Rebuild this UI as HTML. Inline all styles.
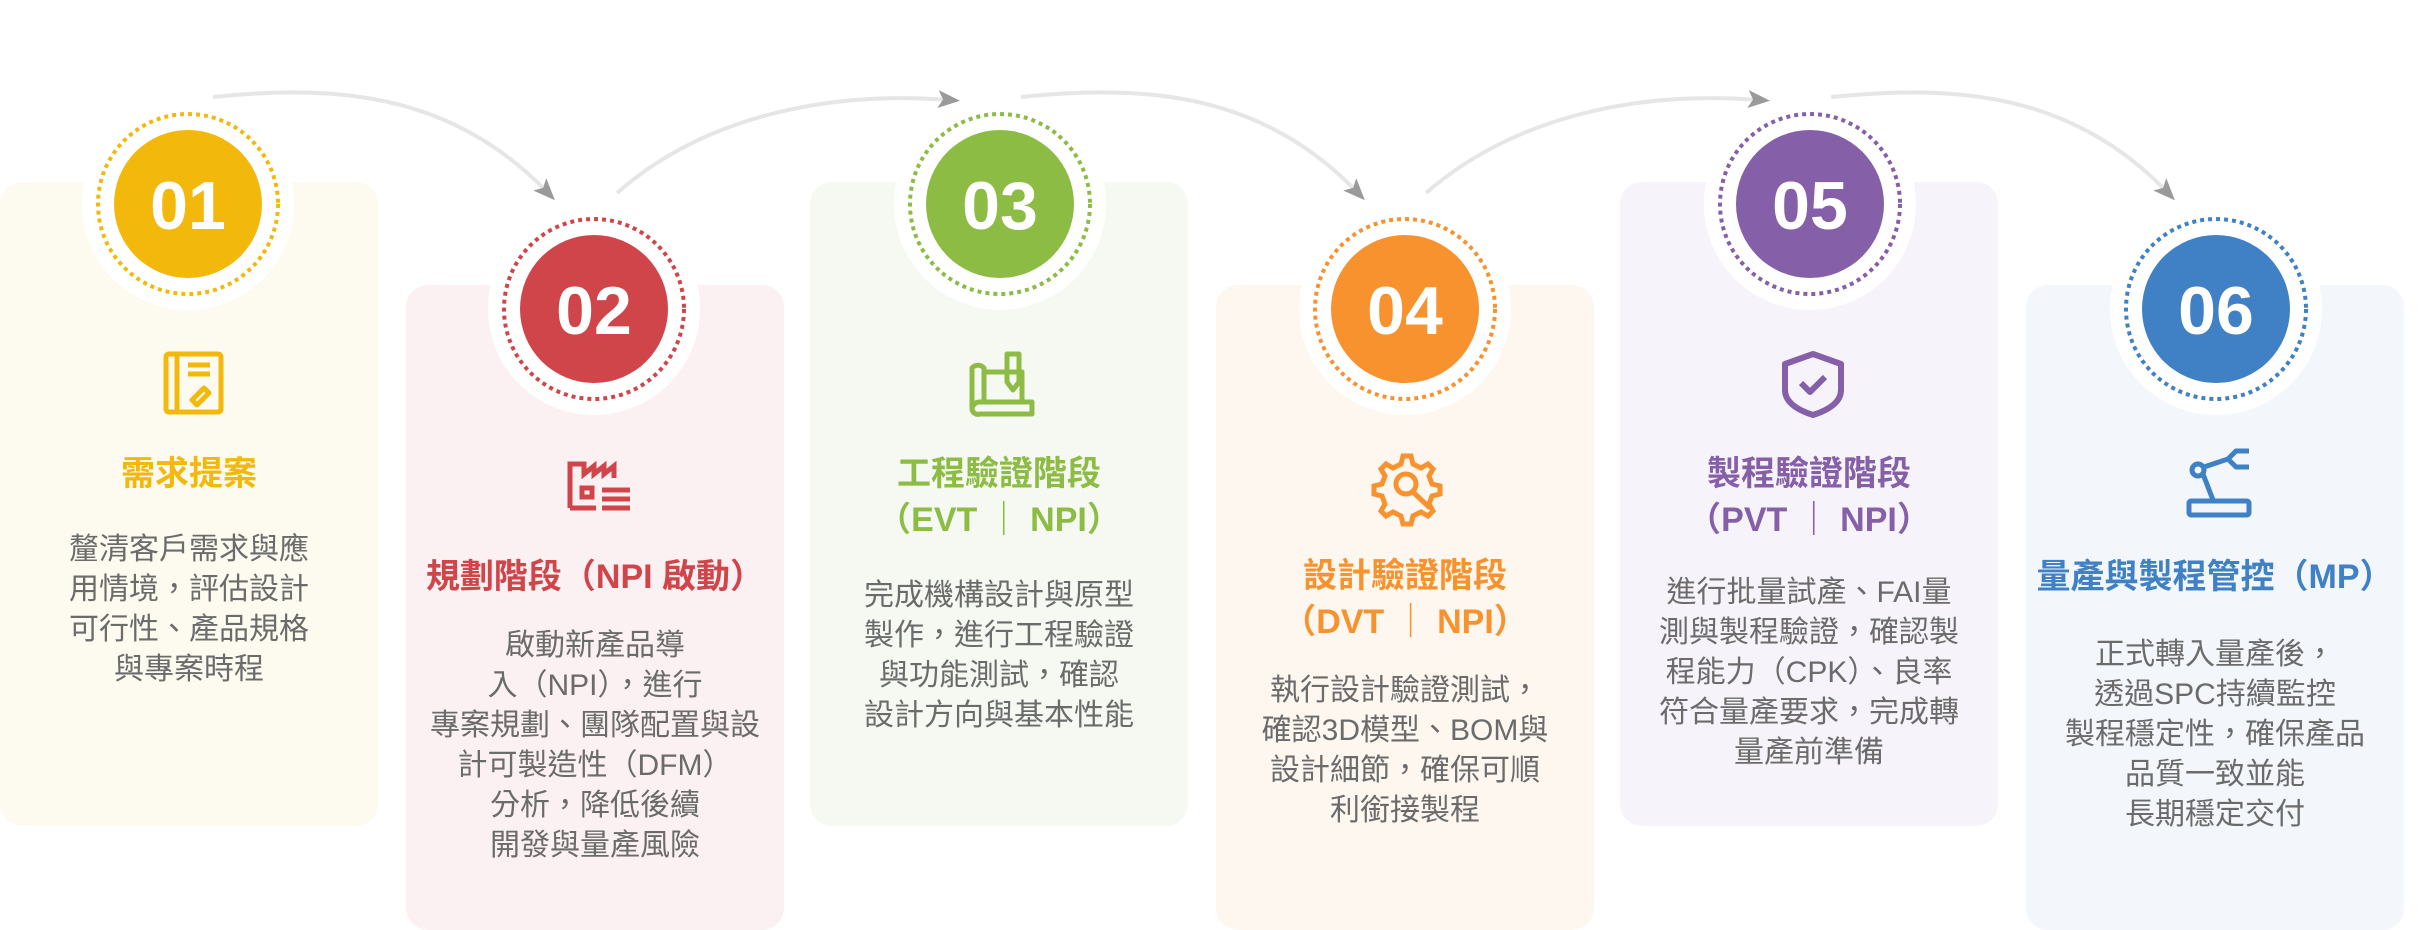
<!DOCTYPE html>
<html><head><meta charset="utf-8"><style>
body{margin:0;width:2420px;height:930px;background:#fff;position:relative;overflow:hidden;font-family:"Liberation Sans","Noto Sans CJK TC",sans-serif;}
.card{position:absolute;width:378px;border-radius:22px;}
.t{position:absolute;left:0;width:100%;text-align:center;}
.ti{font-size:34px;font-weight:bold;line-height:46px;}
.bd{font-size:30px;color:#6b6b6b;line-height:40px;}
svg{position:absolute;left:0;top:0;}
</style></head><body>
<div class="card" style="left:0;top:182px;height:644px;background:#fdfbf0"></div>
<div class="card" style="left:406px;top:285px;height:645px;background:#fbf1f2"></div>
<div class="card" style="left:810px;top:182px;height:644px;background:#f6f9f2"></div>
<div class="card" style="left:1216px;top:285px;height:645px;background:#fdf7f0"></div>
<div class="card" style="left:1620px;top:182px;height:644px;background:#f6f4fa"></div>
<div class="card" style="left:2026px;top:285px;height:645px;background:#f3f6fb"></div>
<svg width="2420" height="930" viewBox="0 0 2420 930">
<defs><marker id="a" markerWidth="22" markerHeight="22" refX="12" refY="11" orient="auto" markerUnits="userSpaceOnUse" viewBox="0 0 22 22"><path d="M0,2 L22,11 L0,20 L5,11z" fill="#9a9a9a"/></marker></defs>
<g fill="none" stroke="#e6e6e6" stroke-width="4">
<path d="M213,97 C330,85 450,90 548,193" marker-end="url(#a)" />
<path d="M617,193 C700,120 820,90 950,100" marker-end="url(#a)" />
<path d="M1021,97 C1140,85 1260,90 1358,193" marker-end="url(#a)" />
<path d="M1426,193 C1510,120 1630,90 1760,100" marker-end="url(#a)" />
<path d="M1831,97 C1950,85 2070,90 2168,193" marker-end="url(#a)" />
</g>
<g>
<g><circle cx="188" cy="204" r="106" fill="#fff"/><circle cx="188" cy="204" r="90" fill="none" stroke="#f2b90c" stroke-width="4" stroke-dasharray="4 4"/><circle cx="188" cy="204" r="74" fill="#f2b90c"/></g>
<g><circle cx="594" cy="309" r="106" fill="#fff"/><circle cx="594" cy="309" r="90" fill="none" stroke="#d0454a" stroke-width="4" stroke-dasharray="4 4"/><circle cx="594" cy="309" r="74" fill="#d0454a"/></g>
<g><circle cx="1000" cy="204" r="106" fill="#fff"/><circle cx="1000" cy="204" r="90" fill="none" stroke="#8dbc45" stroke-width="4" stroke-dasharray="4 4"/><circle cx="1000" cy="204" r="74" fill="#8dbc45"/></g>
<g><circle cx="1405" cy="309" r="106" fill="#fff"/><circle cx="1405" cy="309" r="90" fill="none" stroke="#f7922e" stroke-width="4" stroke-dasharray="4 4"/><circle cx="1405" cy="309" r="74" fill="#f7922e"/></g>
<g><circle cx="1810" cy="204" r="106" fill="#fff"/><circle cx="1810" cy="204" r="90" fill="none" stroke="#8560a8" stroke-width="4" stroke-dasharray="4 4"/><circle cx="1810" cy="204" r="74" fill="#8560a8"/></g>
<g><circle cx="2216" cy="309" r="106" fill="#fff"/><circle cx="2216" cy="309" r="90" fill="none" stroke="#3f81c4" stroke-width="4" stroke-dasharray="4 4"/><circle cx="2216" cy="309" r="74" fill="#3f81c4"/></g>
</g>
<g font-family="Liberation Sans,sans-serif" font-weight="bold" font-size="68" fill="#fff" text-anchor="middle">
<text x="188" y="229">01</text><text x="594" y="334">02</text><text x="1000" y="229">03</text><text x="1405" y="334">04</text><text x="1810" y="229">05</text><text x="2216" y="334">06</text>
</g>
<g fill="none" stroke="#f2b90c" stroke-width="5" stroke-linejoin="round"><rect x="166" y="354" width="55" height="58" rx="3"/><line x1="177" y1="354" x2="177" y2="412"/><line x1="188" y1="365" x2="210" y2="365"/><line x1="188" y1="374" x2="210" y2="374"/><path d="M192,400 l12,-12 l5,5 l-12,12 z"/></g>
<g fill="none" stroke="#d0454a" stroke-width="5"><path d="M570,508 v-44 h14 v10 l10,-8 v8 l10,-8 v8 l10,-8 v12"/><rect x="582" y="488" width="10" height="9"/><line x1="570" y1="508" x2="596" y2="508"/><line x1="602" y1="490" x2="630" y2="490"/><line x1="602" y1="499" x2="630" y2="499"/><line x1="602" y1="508" x2="630" y2="508"/></g>
<g fill="none" stroke="#8dbc45" stroke-width="5" stroke-linejoin="round"><path d="M972,408 v-40 a8,8 0 0 1 12,0 v36"/><path d="M972,408 a8,8 0 0 1 8,-6 h52 v12 h-52 a6,6 0 0 1 -8,-6"/><path d="M984,372 h38 v30"/><path d="M1007,354 h12 v28 l-6,8 l-6,-8 z"/></g>
<g fill="none" stroke="#f7922e" stroke-width="5"><path d="M1405,456 l6,0 l2,8 l8,4 l7,-4 l5,5 l-4,7 l3,8 l8,2 v8 l-8,2 l-3,8 l4,7 l-5,5 l-7,-4 l-8,4 l-2,8 h-8 l-2,-8 l-8,-4 l-7,4 l-5,-5 l4,-7 l-3,-8 l-8,-2 v-8 l8,-2 l3,-8 l-4,-7 l5,-5 l7,4 l8,-4 l2,-8 z"/><circle cx="1406" cy="484" r="10"/><line x1="1413" y1="492" x2="1430" y2="508"/></g>
<g fill="none" stroke="#8560a8" stroke-width="6" stroke-linejoin="round"><path d="M1813,354 l28,10 v26 q0,16 -28,25 q-28,-9 -28,-25 v-26 z"/><path d="M1801,383 l9,9 l15,-15"/></g>
<g fill="none" stroke="#3f81c4" stroke-width="5" stroke-linejoin="round"><rect x="2189" y="501" width="60" height="14" rx="2"/><circle cx="2198" cy="470" r="6"/><path d="M2203,474 l10,26"/><path d="M2204,467 l24,-8"/><path d="M2228,459 l8,-8 h13 M2228,459 l8,8 h13"/></g>
</svg>
<div class="t ti" style="left:0;width:378px;top:451px;color:#f2b90c">需求提案</div>
<div class="t bd" style="left:0;width:378px;top:530px">釐清客戶需求與應<br>用情境，評估設計<br>可行性、產品規格<br>與專案時程</div>
<div class="t ti" style="left:406px;width:378px;top:554px;color:#d0454a">規劃階段（NPI 啟動）</div>
<div class="t bd" style="left:406px;width:378px;top:626px">啟動新產品導<br>入（NPI），進行<br>專案規劃、團隊配置與設<br>計可製造性（DFM）<br>分析，降低後續<br>開發與量產風險</div>
<div class="t ti" style="left:810px;width:378px;top:451px;color:#8dbc45">工程驗證階段<br>（EVT ｜ NPI）</div>
<div class="t bd" style="left:810px;width:378px;top:576px">完成機構設計與原型<br>製作，進行工程驗證<br>與功能測試，確認<br>設計方向與基本性能</div>
<div class="t ti" style="left:1216px;width:378px;top:553px;color:#f7922e">設計驗證階段<br>（DVT ｜ NPI）</div>
<div class="t bd" style="left:1216px;width:378px;top:671px">執行設計驗證測試，<br>確認3D模型、BOM與<br>設計細節，確保可順<br>利銜接製程</div>
<div class="t ti" style="left:1620px;width:378px;top:451px;color:#8560a8">製程驗證階段<br>（PVT ｜ NPI）</div>
<div class="t bd" style="left:1620px;width:378px;top:573px">進行批量試產、FAI量<br>測與製程驗證，確認製<br>程能力（CPK）、良率<br>符合量產要求，完成轉<br>量產前準備</div>
<div class="t ti" style="left:2026px;width:378px;top:554px;color:#3f81c4">量產與製程管控（MP）</div>
<div class="t bd" style="left:2026px;width:378px;top:635px">正式轉入量產後，<br>透過SPC持續監控<br>製程穩定性，確保產品<br>品質一致並能<br>長期穩定交付</div>
</body></html>
